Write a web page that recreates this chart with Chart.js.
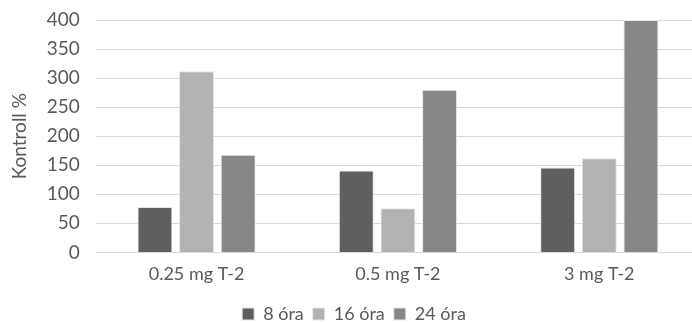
<!DOCTYPE html>
<html>
<head>
<meta charset="utf-8">
<script src="https://cdn.jsdelivr.net/npm/chart.js@4"></script>
<style>
  html, body { margin: 0; padding: 0; background: #fff; overflow: hidden; }
  #wrap { width: 700px; height: 324px; }
</style>
</head>
<body>
<div id="wrap"><canvas id="myChart" width="700" height="324"></canvas></div>
<script>
const labels = ['0.25 mg T-2', '0.5 mg T-2', '3 mg T-2'];
const ora8 = [78, 141, 146];
const ora16 = [312, 76, 162];
const ora24 = [168, 280, 400];
const seriesNames = ['8 óra', '16 óra', '24 óra'];
const colors = ['#5f5f5f', '#b2b2b2', '#878787'];

const textColor = '#595959';
const fontFamily = 'Lato, "Liberation Sans", sans-serif';

const ctx = document.getElementById('myChart').getContext('2d');
const chart = new Chart(ctx, {
  type: 'bar',
  data: {
    labels: labels,
    datasets: [ora8, ora16, ora24].map((d, i) => ({
      label: seriesNames[i],
      data: d,
      backgroundColor: colors[i],
      borderColor: '#e6e6e6',
      borderWidth: 1,
      categoryPercentage: 0.62,
      barPercentage: 0.84
    }))
  },
  options: {
    responsive: false,
    animation: false,
    // negative bottom padding pushes the legend down to where the original has it
    layout: { padding: { top: 20, right: 0, left: 8, bottom: -9 } },
    plugins: {
      legend: {
        position: 'bottom',
        labels: {
          boxWidth: 12,
          boxHeight: 12,
          padding: 9,
          color: textColor,
          font: { family: fontFamily, size: 18 }
        }
      },
      tooltip: { enabled: false }
    },
    scales: {
      x: {
        grid: { display: false, drawTicks: false },
        border: { display: false },
        ticks: { color: textColor, font: { family: fontFamily, size: 18 }, padding: 11 }
      },
      y: {
        min: 0,
        max: 400,
        // small lineHeight keeps the tick padding from eating space above the plot
        ticks: { stepSize: 50, autoSkip: false, color: textColor, font: { family: fontFamily, size: 19, lineHeight: 0.2 }, padding: 16 },
        grid: { color: '#d9d9d9', lineWidth: 1, drawTicks: false },
        border: { display: false },
        title: {
          display: true,
          text: 'Kontroll %',
          color: textColor,
          font: { family: fontFamily, size: 19 },
          padding: { top: 0, bottom: 0 }
        }
      }
    }
  }
});
</script>
</body>
</html>
